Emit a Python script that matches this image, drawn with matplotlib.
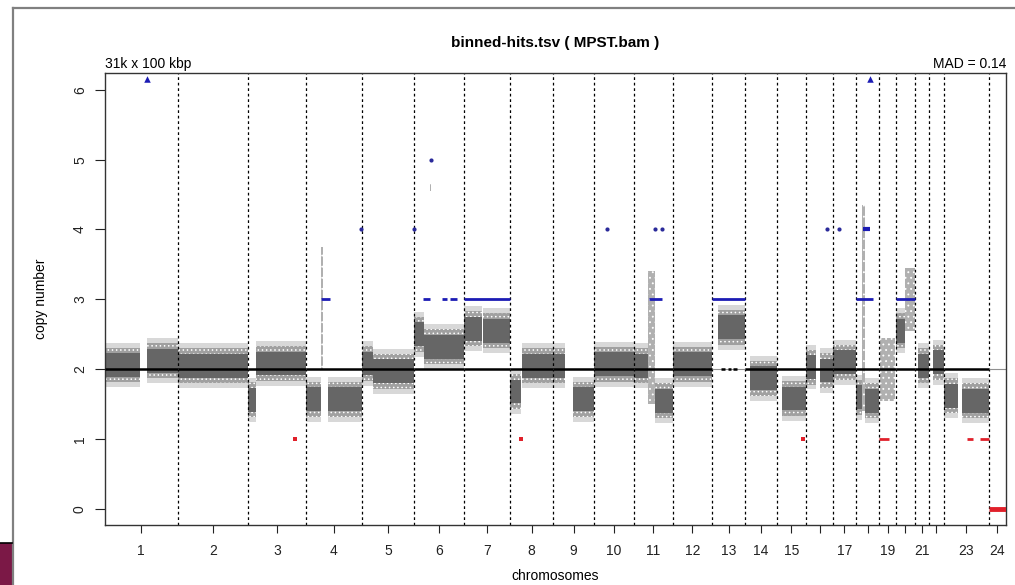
import numpy as np
import matplotlib
matplotlib.use('Agg')
import matplotlib.pyplot as plt
from matplotlib.patches import Rectangle
from matplotlib.lines import Line2D

plt.rcParams['font.family'] = ['Liberation Sans', 'DejaVu Sans']
plt.rcParams['hatch.linewidth'] = 0.6

# chromosome sizes (Mb), 1..22, X (23), Y (24)
chrom_names = [str(i) for i in range(1, 25)]
chrom_len = [249.3, 243.2, 198.0, 191.2, 180.9, 171.1, 159.1, 146.4, 141.2, 135.5,
             135.0, 133.9, 115.2, 107.3, 102.5, 90.4, 81.2, 78.1, 59.1, 63.0,
             48.1, 51.3, 155.3, 59.4]
shown_labels = ['1', '2', '3', '4', '5', '6', '7', '8', '9', '10', '11', '12', '13',
                '14', '15', '', '17', '', '19', '', '21', '', '23', '24']

# dense bin clouds: (chrom, start Mb, end Mb, median copy number)
cloud_chrom = [1, 1, 2, 3, 3, 4, 4, 5, 5, 6, 6, 7, 7, 8, 8, 9, 9, 10, 11, 11,
               12, 13, 14, 15, 16, 16, 17, 18, 18, 20, 21, 22, 23, 23]
cloud_start = [0, 145, 0, 0, 26, 0, 75, 0, 40, 0, 35, 0, 64, 0, 40, 0, 68, 0, 0, 75,
               0, 20, 17, 19, 0, 46, 0, 0, 30, 0, 12, 16, 0, 63]
cloud_end = [121, 249.3, 243.2, 28, 198, 50, 191.2, 40, 180.9, 35, 171.1, 60, 159.1, 36, 146.4,
             40, 141.2, 135.5, 50, 135, 133.9, 115.2, 107.3, 102.5, 34, 90.4, 81.2, 18, 78.1,
             30, 48.1, 51.3, 50, 155.3]
cloud_cn = [2.06, 2.12, 2.05, 1.56, 2.08, 1.57, 1.57, 2.08, 1.97, 2.5, 2.32, 2.58, 2.55,
            1.68, 2.05, 2.05, 1.57, 2.07, 2.05, 1.55, 2.07, 2.6, 1.87, 1.58, 2.03, 1.98,
            2.1, 1.6, 1.55, 2.55, 2.05, 2.1, 1.62, 1.55]

# sparse streaks of bins: (chrom, start, end, low cn, high cn)
streak_chrom = [4, 11, 18, 19, 20, 6]
streak_start = [51, 50, 18, 5, 30, 54]
streak_end = [57, 75, 30, 55, 63, 58]
streak_low = [2.0, 1.5, 1.4, 1.55, 2.55, 4.55]
streak_high = [3.75, 3.4, 4.35, 2.45, 3.45, 4.65]

# called segments (chrom, start, end)
black2_chrom = [1, 2, 3, 4, 5, 6, 7, 8, 9, 10, 11, 12, 13, 13, 13, 14, 15, 16, 17,
                18, 19, 20, 21, 22, 23]
black2_start = [0] * 12 + [32, 56, 73] + [0] * 10
black2_end = [249.3, 243.2, 198.0, 191.2, 180.9, 171.1, 159.1, 146.4, 141.2, 135.5,
              135.0, 133.9, 45, 66, 87, 107.3, 102.5, 90.4, 81.2, 78.1, 59.1, 63.0,
              48.1, 51.3, 155.3]

blue3_chrom = [4, 6, 6, 6, 7, 11, 13, 18, 20]
blue3_start = [52, 31, 96, 124, 0, 53, 0, 0, 0]
blue3_end = [82, 54, 113, 147, 159.1, 98, 115.2, 57, 63]

blue4_chrom = [18]
blue4_start = [23]
blue4_end = [46]

red1_chrom = [19, 23, 23]
red1_start = [0, 81, 126]
red1_end = [34, 101, 155]

red0_chrom = [24]
red0_start = [0]
red0_end = [59.4]

# single called bins: (chrom, pos Mb, cn)
bpt_chrom = [4, 5, 6, 10, 11, 11, 16, 17]
bpt_pos = [190, 180, 56, 44, 74, 97, 70, 22]
bpt_cn = [4, 4, 5, 4, 4, 4, 4, 4]
rpt_chrom = [3, 8, 15]
rpt_pos = [160, 38, 91]
# off-scale markers (cn above plot)
tri_chrom = [1, 18]
tri_pos = [143, 47]

offsets = np.concatenate([[0], np.cumsum(chrom_len)])
total = offsets[-1]


def gx(chrom, pos):
    return offsets[chrom - 1] + pos


fig = plt.figure(figsize=(10.15, 5.85), dpi=100)

# slide frame around the chart
fig.add_artist(Line2D([13 / 1015, 13 / 1015], [0, 1 - 8 / 585], color='#808080', lw=1.6))
fig.add_artist(Line2D([13 / 1015, 1], [1 - 8 / 585, 1 - 8 / 585], color='#808080', lw=1.6))
fig.add_artist(Rectangle((0, 0), 12 / 1015, 42 / 585, facecolor='#7b1846',
                         edgecolor='none', transform=fig.transFigure))
fig.add_artist(Line2D([0, 12 / 1015], [42 / 585, 42 / 585], color='black', lw=1.2))

ax = fig.add_axes([105 / 1015, 60 / 585, 901 / 1015, 452 / 585])
ax.set_xlim(0, total)
ax.set_ylim(-0.23, 6.24)

# gray bin clouds
for c, s, e, m in zip(cloud_chrom, cloud_start, cloud_end, cloud_cn):
    x0, x1 = gx(c, s), gx(c, e)
    ax.fill_between([x0, x1], m - 0.32, m + 0.32, facecolor='#d8d8d8', lw=0, zorder=1)
    ax.fill_between([x0, x1], m - 0.25, m + 0.25, facecolor='#a0a0a0', edgecolor='white',
                    hatch='....', lw=0, zorder=1)
    ax.fill_between([x0, x1], m - 0.17, m + 0.17, facecolor='#666666', lw=0, zorder=1)

for c, s, e, lo, hi in zip(streak_chrom, streak_start, streak_end, streak_low, streak_high):
    ax.fill_between([gx(c, s), gx(c, e)], lo, hi, facecolor='#b0b0b0', edgecolor='white',
                    hatch='...', lw=0, zorder=1)

# chromosome borders
for b in offsets[1:-1]:
    ax.axvline(b, color='black', lw=0.9, ls=(0, (2.2, 2.2)), zorder=2)

ax.axhline(2, color='#909090', lw=0.8, zorder=2)

for c, s, e in zip(black2_chrom, black2_start, black2_end):
    ax.plot([gx(c, s), gx(c, e)], [2, 2], color='black', lw=1.8, solid_capstyle='butt', zorder=3)
for c, s, e in zip(blue3_chrom, blue3_start, blue3_end):
    ax.plot([gx(c, s), gx(c, e)], [3, 3], color='#1c1cb4', lw=2.0, solid_capstyle='butt', zorder=3)
for c, s, e in zip(blue4_chrom, blue4_start, blue4_end):
    ax.plot([gx(c, s), gx(c, e)], [4, 4], color='#1c1cb4', lw=3.0, solid_capstyle='butt', zorder=3)
for c, s, e in zip(red1_chrom, red1_start, red1_end):
    ax.plot([gx(c, s), gx(c, e)], [1, 1], color='#e0202a', lw=2.0, solid_capstyle='butt', zorder=3)
for c, s, e in zip(red0_chrom, red0_start, red0_end):
    ax.plot([gx(c, s), gx(c, e)], [0, 0], color='#e0202a', lw=3.5, solid_capstyle='butt', zorder=3)

ax.scatter([gx(c, p) for c, p in zip(bpt_chrom, bpt_pos)], bpt_cn, s=9, marker='o',
           color='#2a2a9a', zorder=4, lw=0)
ax.scatter([gx(c, p) for c, p in zip(rpt_chrom, rpt_pos)], [1] * len(rpt_pos), s=6,
           marker='s', color='#e0202a', zorder=4, lw=0)
ax.scatter([gx(c, p) for c, p in zip(tri_chrom, tri_pos)], [6.15] * len(tri_pos), s=22,
           marker='^', color='#1c1cb4', zorder=4, lw=0)

centers = (offsets[:-1] + offsets[1:]) / 2
ax.set_xticks(centers)
ax.set_xticklabels(shown_labels, fontsize=10)
ax.set_yticks(range(7))
ax.set_yticklabels([str(i) for i in range(7)], fontsize=10, rotation=90, va='center')
ax.tick_params(axis='x', length=6, width=0.8, pad=8, colors='#222222')
ax.tick_params(axis='y', length=7, width=0.8, pad=6, colors='#222222')
for sp in ax.spines.values():
    sp.set_linewidth(1.0)
    sp.set_color('#333333')

ax.set_ylabel('copy number', fontsize=10, labelpad=18)
ax.text(0, 1.005, '31k x 100 kbp', transform=ax.transAxes, ha='left', va='bottom', fontsize=10)
ax.text(1, 1.005, 'MAD = 0.14', transform=ax.transAxes, ha='right', va='bottom', fontsize=10)
fig.text(555 / 1015, 1 - 43 / 585, 'binned-hits.tsv ( MPST.bam )', ha='center', va='center',
         fontsize=11, fontweight='bold')
fig.text(555 / 1015, 1 - 576 / 585, 'chromosomes', ha='center', va='center', fontsize=10)

fig.savefig('out.png', dpi=100)
